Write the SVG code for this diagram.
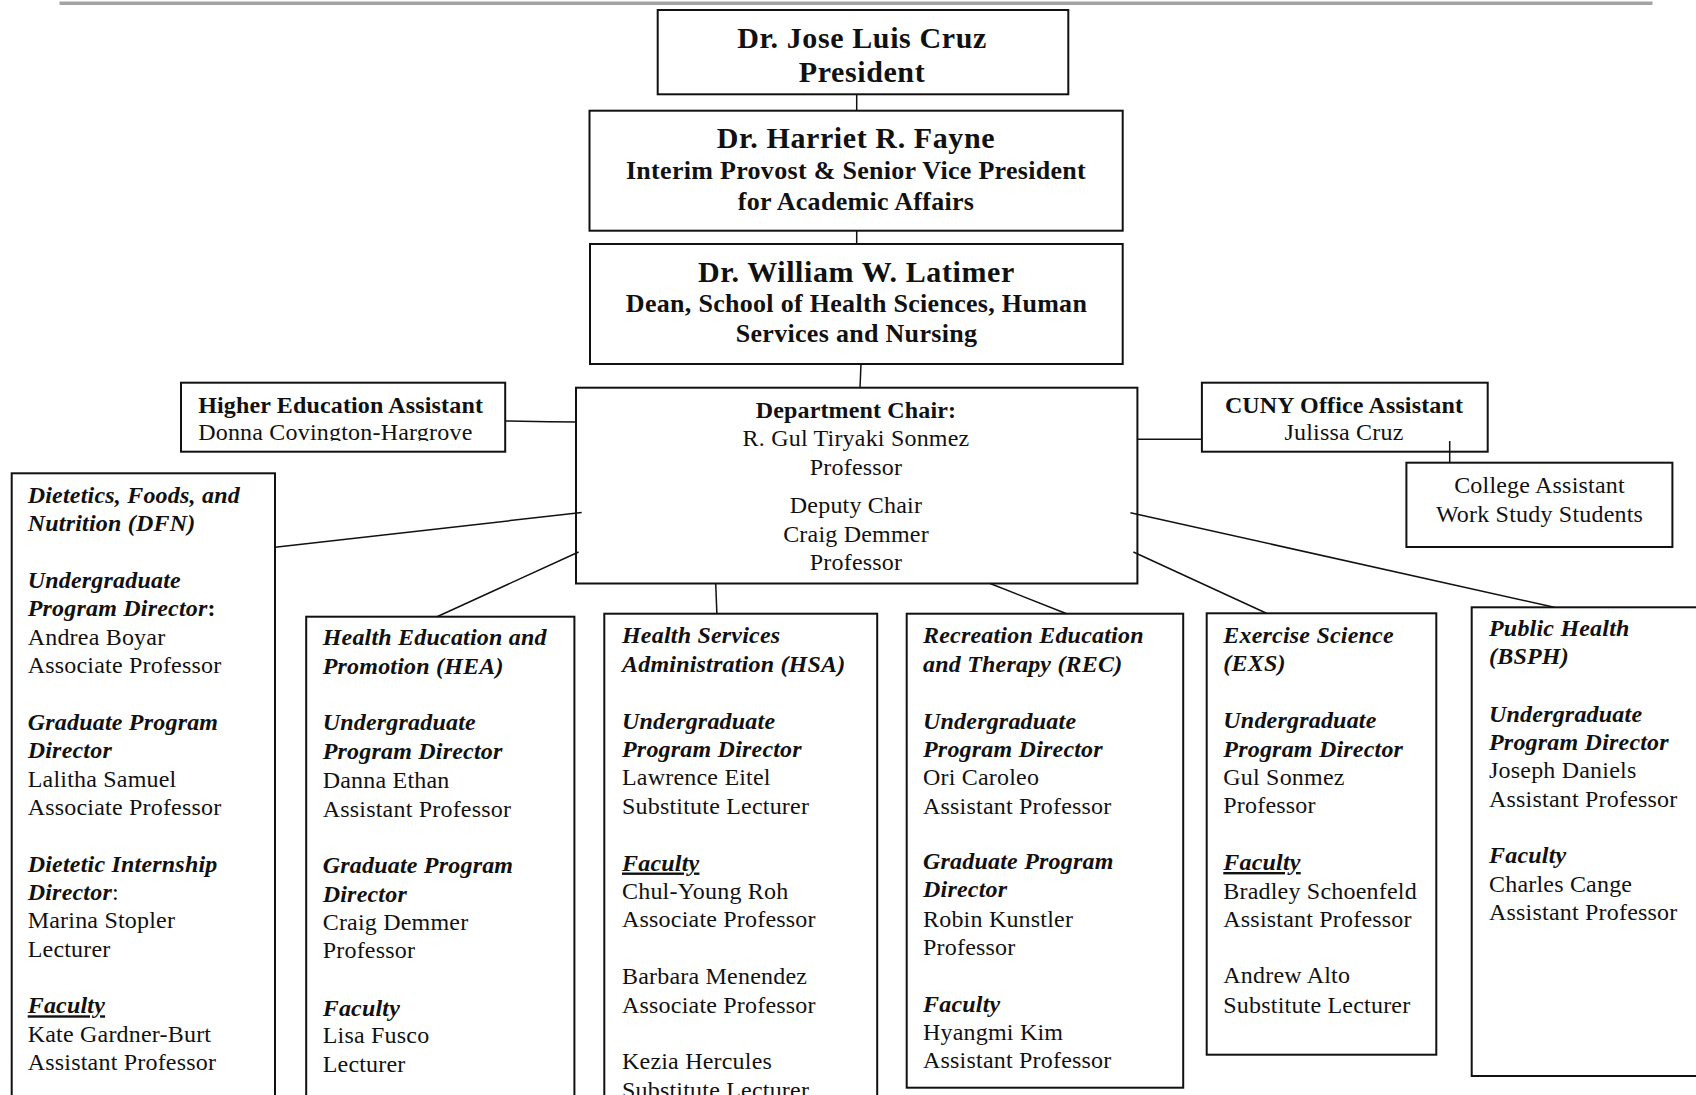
<svg xmlns="http://www.w3.org/2000/svg" width="1696" height="1095" viewBox="0 0 1696 1095">
<style>
.box{fill:#fff;stroke:#111;stroke-width:2}
.conn{stroke:#111;stroke-width:1.5;fill:none}
text{font-family:"Liberation Serif","Times New Roman",serif;fill:#111}
.nm{font-size:30px;font-weight:bold;letter-spacing:0.6px;text-anchor:middle}
.sub{font-size:26px;font-weight:bold;letter-spacing:0.3px;text-anchor:middle}
.bh{font-size:24px;font-weight:bold;letter-spacing:0.15px}
.r{font-size:24px;letter-spacing:0.2px}
.bi{font-size:24px;font-weight:bold;font-style:italic;letter-spacing:0.2px}
.u{text-decoration:underline}
.c{text-anchor:middle}
</style>
<defs>
<clipPath id="clipDonna"><rect x="150" y="380" width="400" height="61"/></clipPath>
</defs>
<rect x="59.5" y="1.5" width="1593" height="3.5" fill="#a3a3a3"/>

<g id="president">
<rect class="box" x="657.7" y="10" width="410.6" height="84.3"/>
<text class="nm" x="862" y="47.7">Dr. Jose Luis Cruz</text>
<text class="nm" x="862" y="81.7">President</text>
</g>

<g id="provost">
<rect class="box" x="589.5" y="110.7" width="533.2" height="120"/>
<text class="nm" x="856" y="147.7">Dr. Harriet R. Fayne</text>
<text class="sub" x="856" y="179">Interim Provost &amp; Senior Vice President</text>
<text class="sub" x="856" y="210">for Academic Affairs</text>
</g>

<g id="dean">
<rect class="box" x="590" y="244" width="532.7" height="120"/>
<text class="nm" x="856.5" y="281.7">Dr. William W. Latimer</text>
<text class="sub" x="856.5" y="311.7">Dean, School of Health Sciences, Human</text>
<text class="sub" x="856.5" y="341.7">Services and Nursing</text>
</g>

<g id="chair">
<rect class="box" x="576" y="387.7" width="561.4" height="195.8"/>
<text class="bh c" x="856" y="417.7">Department Chair:</text>
<text class="r c" x="856" y="446">R. Gul Tiryaki Sonmez</text>
<text class="r c" x="856" y="475">Professor</text>
<text class="r c" x="856" y="513.3">Deputy Chair</text>
<text class="r c" x="856" y="541.7">Craig Demmer</text>
<text class="r c" x="856" y="570">Professor</text>
</g>

<g id="higher-ed-assistant">
<rect class="box" x="181" y="382.7" width="324.2" height="69"/>
<text class="bh" x="198.2" y="412.7">Higher Education Assistant</text>
<text class="r" x="198.2" y="440" clip-path="url(#clipDonna)">Donna Covington-Hargrove</text>
</g>

<g id="cuny-office-assistant">
<rect class="box" x="1201.9" y="382.7" width="285.8" height="69"/>
<text class="bh c" x="1344" y="412.7">CUNY Office Assistant</text>
<text class="r c" x="1344" y="440">Julissa Cruz</text>
</g>

<g id="college-assistant">
<rect class="box" x="1406.4" y="462.7" width="266" height="84.3"/>
<text class="r c" x="1539.5" y="493.3">College Assistant</text>
<text class="r c" x="1539.5" y="521.7">Work Study Students</text>
</g>

<g id="dfn">
<rect class="box" x="11.7" y="473.3" width="263.3" height="640"/>
<text class="bi" x="27.7" y="503.3">Dietetics, Foods, and</text>
<text class="bi" x="27.7" y="531.3">Nutrition (DFN)</text>
<text class="bi" x="27.7" y="588">Undergraduate</text>
<text class="bi" x="27.7" y="616.4">Program Director<tspan font-style="normal">:</tspan></text>
<text class="r" x="27.7" y="644.7">Andrea Boyar</text>
<text class="r" x="27.7" y="673.1">Associate Professor</text>
<text class="bi" x="27.7" y="729.8">Graduate Program</text>
<text class="bi" x="27.7" y="758.1">Director</text>
<text class="r" x="27.7" y="786.5">Lalitha Samuel</text>
<text class="r" x="27.7" y="814.8">Associate Professor</text>
<text class="bi" x="27.7" y="871.5">Dietetic Internship</text>
<text class="bi" x="27.7" y="899.9">Director<tspan font-style="normal" font-weight="normal">:</tspan></text>
<text class="r" x="27.7" y="928.2">Marina Stopler</text>
<text class="r" x="27.7" y="956.6">Lecturer</text>
<text class="bi u" x="27.7" y="1013.3">Faculty</text>
<text class="r" x="27.7" y="1041.6">Kate Gardner-Burt</text>
<text class="r" x="27.7" y="1070">Assistant Professor</text>
</g>

<g id="hea">
<rect class="box" x="306.2" y="616.7" width="268.2" height="500"/>
<text class="bi" x="322.7" y="645">Health Education and</text>
<text class="bi" x="322.7" y="673.5">Promotion (HEA)</text>
<text class="bi" x="322.7" y="730">Undergraduate</text>
<text class="bi" x="322.7" y="759.3">Program Director</text>
<text class="r" x="322.7" y="788.3">Danna Ethan</text>
<text class="r" x="322.7" y="816.5">Assistant Professor</text>
<text class="bi" x="322.7" y="873.3">Graduate Program</text>
<text class="bi" x="322.7" y="901.7">Director</text>
<text class="r" x="322.7" y="930">Craig Demmer</text>
<text class="r" x="322.7" y="958.3">Professor</text>
<text class="bi" x="322.7" y="1015.5">Faculty</text>
<text class="r" x="322.7" y="1043.3">Lisa Fusco</text>
<text class="r" x="322.7" y="1071.7">Lecturer</text>
</g>

<g id="hsa">
<rect class="box" x="604.3" y="613.7" width="272.9" height="500"/>
<text class="bi" x="622" y="643.3">Health Services</text>
<text class="bi" x="622" y="671.7">Administration (HSA)</text>
<text class="bi" x="622" y="728.5">Undergraduate</text>
<text class="bi" x="622" y="756.9">Program Director</text>
<text class="r" x="622" y="785.3">Lawrence Eitel</text>
<text class="r" x="622" y="813.7">Substitute Lecturer</text>
<text class="bi u" x="622" y="870.5">Faculty</text>
<text class="r" x="622" y="898.9">Chul-Young Roh</text>
<text class="r" x="622" y="927.3">Associate Professor</text>
<text class="r" x="622" y="984.1">Barbara Menendez</text>
<text class="r" x="622" y="1012.5">Associate Professor</text>
<text class="r" x="622" y="1069.3">Kezia Hercules</text>
<text class="r" x="622" y="1097.7">Substitute Lecturer</text>
</g>

<g id="rec">
<rect class="box" x="906.7" y="613.7" width="276.5" height="474"/>
<text class="bi" x="923" y="643.3">Recreation Education</text>
<text class="bi" x="923" y="671.7">and Therapy (REC)</text>
<text class="bi" x="923" y="728.5">Undergraduate</text>
<text class="bi" x="923" y="756.9">Program Director</text>
<text class="r" x="923" y="785.3">Ori Caroleo</text>
<text class="r" x="923" y="813.7">Assistant Professor</text>
<text class="bi" x="923" y="868.5">Graduate Program</text>
<text class="bi" x="923" y="897">Director</text>
<text class="r" x="923" y="926.7">Robin Kunstler</text>
<text class="r" x="923" y="955">Professor</text>
<text class="bi" x="923" y="1011.7">Faculty</text>
<text class="r" x="923" y="1040">Hyangmi Kim</text>
<text class="r" x="923" y="1068.3">Assistant Professor</text>
</g>

<g id="exs">
<rect class="box" x="1206.7" y="613.3" width="229.6" height="441.4"/>
<text class="bi" x="1223.3" y="642.7">Exercise Science</text>
<text class="bi" x="1223.3" y="671">(EXS)</text>
<text class="bi" x="1223.3" y="728.3">Undergraduate</text>
<text class="bi" x="1223.3" y="756.7">Program Director</text>
<text class="r" x="1223.3" y="785">Gul Sonmez</text>
<text class="r" x="1223.3" y="813.3">Professor</text>
<text class="bi u" x="1223.3" y="870">Faculty</text>
<text class="r" x="1223.3" y="899.3">Bradley Schoenfeld</text>
<text class="r" x="1223.3" y="926.7">Assistant Professor</text>
<text class="r" x="1223.3" y="983.3">Andrew Alto</text>
<text class="r" x="1223.3" y="1012.7">Substitute Lecturer</text>
</g>

<g id="bsph">
<rect class="box" x="1471.7" y="607.3" width="240" height="468.7"/>
<text class="bi" x="1489" y="636">Public Health</text>
<text class="bi" x="1489" y="664.3">(BSPH)</text>
<text class="bi" x="1489" y="721.7">Undergraduate</text>
<text class="bi" x="1489" y="750">Program Director</text>
<text class="r" x="1489" y="778.3">Joseph Daniels</text>
<text class="r" x="1489" y="807.3">Assistant Professor</text>
<text class="bi" x="1489" y="863.3">Faculty</text>
<text class="r" x="1489" y="891.7">Charles Cange</text>
<text class="r" x="1489" y="920">Assistant Professor</text>
</g>

<g id="connectors">
<line class="conn" x1="856.7" y1="94.3" x2="856.7" y2="110.7"/>
<line class="conn" x1="856.7" y1="230.7" x2="856.7" y2="244"/>
<line class="conn" x1="861" y1="364" x2="860" y2="387.7"/>
<polyline class="conn" points="505.2,421 549,421.7 577,422"/>
<line class="conn" x1="1137.4" y1="439.3" x2="1201.9" y2="439.3"/>
<line class="conn" x1="1449.7" y1="441" x2="1449.7" y2="462.7"/>
<line class="conn" x1="275" y1="547.3" x2="581.7" y2="512.5"/>
<line class="conn" x1="437" y1="616.7" x2="578.6" y2="552"/>
<line class="conn" x1="715.7" y1="583.5" x2="716.9" y2="613.7"/>
<line class="conn" x1="990.1" y1="583.5" x2="1066.6" y2="613.7"/>
<line class="conn" x1="1133.4" y1="552" x2="1266.5" y2="613.3"/>
<line class="conn" x1="1130.4" y1="512.7" x2="1554.2" y2="607.3"/>
</g>
</svg>
